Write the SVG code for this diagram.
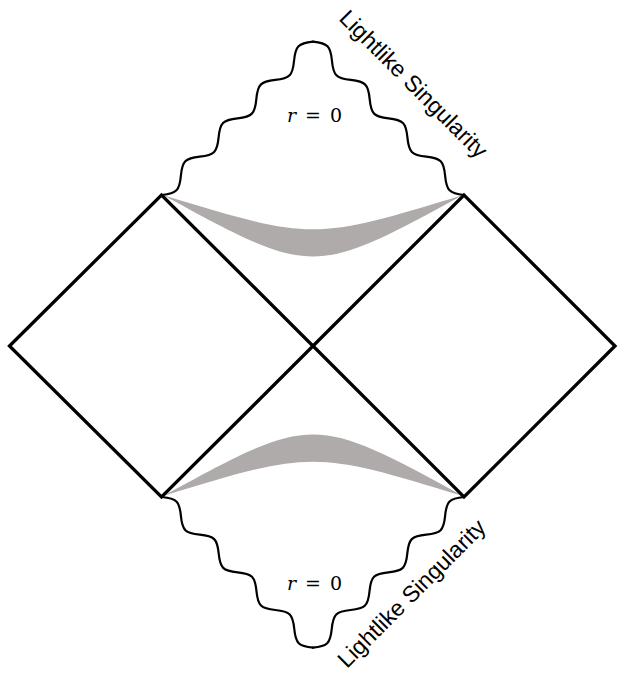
<svg xmlns="http://www.w3.org/2000/svg" xmlns:xlink="http://www.w3.org/1999/xlink" width="618" height="673" viewBox="0 0 618 673">
  <style>
    .edge { fill: none; stroke: #000; stroke-width: 3.3; stroke-linejoin: miter; }
    .wave { fill: none; stroke: #000; stroke-width: 2.2; stroke-linecap: round; }
    .shade { fill: #AFABAB; stroke: none; }
    .math { font-family: "DejaVu Serif", "Liberation Serif", serif; font-size: 19px; fill: #000; word-spacing: 3px; }
    .label { font-family: "Liberation Sans", Arial, sans-serif; font-size: 23px; fill: #000; }
  </style>
  <defs>
    <path id="wave" d="M0,0 c4.387,3.586 8.583,7 13.45,7 s9.063,-3.414 13.45,-7 s8.583,-7 13.45,-7 s9.063,3.414 13.45,7 s8.583,7 13.45,7 s9.063,-3.414 13.45,-7 s8.583,-7 13.45,-7 s9.063,3.414 13.45,7 s8.583,7 13.45,7 s9.063,-3.414 13.45,-7 s8.583,-7 13.45,-7 s9.063,3.414 13.45,7 s8.583,7 13.45,7 s9.063,-3.414 13.45,-7 s8.583,-7 13.45,-7 s9.063,3.414 13.45,7"/>
  </defs>

  <g id="shading">
    <path id="shade-top" class="shade" d="M163,195 C313,240.7 313,240.7 463,195 C313,277 313,277 163,195 Z"/>
    <path id="shade-bottom" class="shade" d="M163,496 C313,414 313,414 463,496 C313,450.3 313,450.3 163,496 Z"/>
  </g>

  <g id="diamond-left">
    <polygon class="edge" points="9.5,346 161.5,195 313,346 161.5,497"/>
  </g>
  <g id="diamond-right">
    <polygon class="edge" points="313,346 464,195 615,346 464,497"/>
  </g>

  <g id="singularity-top">
    <use xlink:href="#wave" href="#wave" class="wave" transform="translate(162,195) rotate(-45.47)"/>
    <use xlink:href="#wave" href="#wave" class="wave" transform="translate(626,0) scale(-1,1) translate(162,195) rotate(-45.47)"/>
    <text class="math" x="314.5" y="122" text-anchor="middle"><tspan font-style="italic">r</tspan> = 0</text>
    <text class="label" text-anchor="middle" transform="translate(408,89.5) rotate(45)">Lightlike Singularity</text>
  </g>

  <g id="singularity-bottom">
    <use xlink:href="#wave" href="#wave" class="wave" transform="translate(162,497) rotate(44.9) scale(0.9916,-1)"/>
    <use xlink:href="#wave" href="#wave" class="wave" transform="translate(626,0) scale(-1,1) translate(162,497) rotate(44.9) scale(0.9916,-1)"/>
    <text class="math" x="314.5" y="590" text-anchor="middle"><tspan font-style="italic">r</tspan> = 0</text>
    <text class="label" text-anchor="middle" transform="translate(417,599) rotate(-45)">Lightlike Singularity</text>
  </g>
</svg>
